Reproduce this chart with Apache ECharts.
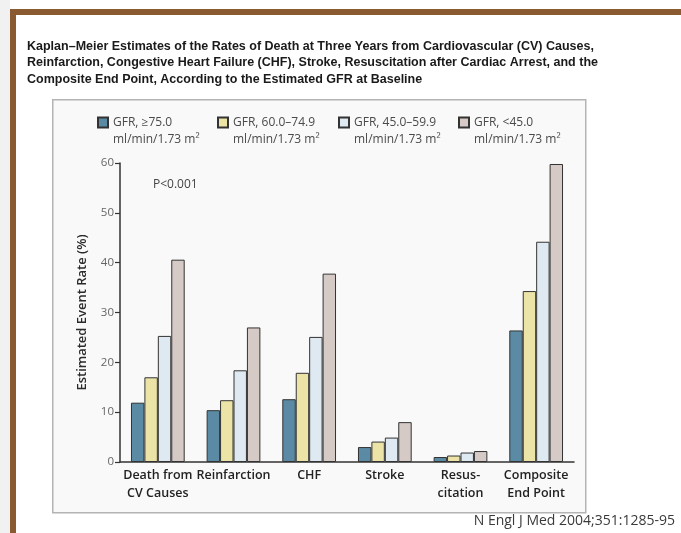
<!DOCTYPE html>
<html>
<head>
<meta charset="utf-8">
<script src="https://cdn.jsdelivr.net/npm/echarts@6/dist/echarts.min.js"></script>
<style>
  html, body { margin: 0; padding: 0; background: #ffffff; }
  #chart { width: 681px; height: 533px; }
</style>
</head>
<body>
<div id="chart"></div>
<script>
// Event categories along the x axis
const categories = ['Death from\nCV Causes', 'Reinfarction', 'CHF', 'Stroke', 'Resus-\ncitation', 'Composite\nEnd Point'];

// Estimated GFR groups (legend)
const groupNames = ['GFR, ≥75.0', 'GFR, 60.0–74.9', 'GFR, 45.0–59.9', 'GFR, <45.0'];
const groupUnit = 'ml/min/1.73 m²';

// Three-year event rates (%) per GFR group
const gfr75 = [11.9, 10.4, 12.6, 3.0, 1.0, 26.4];
const gfr60 = [17.0, 12.4, 17.9, 4.1, 1.3, 34.3];
const gfr45 = [25.3, 18.4, 25.1, 4.9, 1.9, 44.2];
const gfrLow = [40.6, 27.0, 37.8, 8.0, 2.2, 59.8];

// Y axis ticks
const yTicks = [0, 10, 20, 30, 40, 50, 60];

const seriesValues = [gfr75, gfr60, gfr45, gfrLow];
const barColors = ['#5b8ba4', '#ece4a6', '#dfe9f1', '#d6cac6'];
const legendLeft = [97, 217, 338, 458];

const labelFont = '"Open Sans", "Noto Sans", "DejaVu Sans", sans-serif';

const chart = echarts.init(document.getElementById('chart'), null, { renderer: 'canvas' });

const option = {
  animation: false,
  backgroundColor: '#ffffff',
  graphic: [
    // soft grey strip at the far left
    { type: 'rect', left: 0, top: 0, shape: { width: 10, height: 533 },
      style: { fill: '#f1f1f1' }, z: -10 },
    // brown frame: top and left bars
    { type: 'rect', left: 10, top: 9, shape: { width: 671, height: 6 },
      style: { fill: '#8a5b30' }, z: -5 },
    { type: 'rect', left: 10, top: 9, shape: { width: 6, height: 524 },
      style: { fill: '#8a5b30' }, z: -5 },
    // figure panel
    { type: 'rect', left: 52, top: 99, shape: { width: 533, height: 413 },
      style: { fill: '#f9f9f9', stroke: '#b4b4b4', lineWidth: 1.5 }, z: -8 },
    // significance note
    { type: 'text', left: 153, top: 179,
      style: { text: 'P<0.001', fill: '#444', font: '12px ' + labelFont } },
    // citation
    { type: 'text', right: 6, top: 514,
      style: { text: 'N Engl J Med 2004;351:1285-95', fill: '#3a3a3a', font: '14px ' + labelFont } }
  ],
  title: {
    text: 'Kaplan–Meier Estimates of the Rates of Death at Three Years from Cardiovascular (CV) Causes,\nReinfarction, Congestive Heart Failure (CHF), Stroke, Resuscitation after Cardiac Arrest, and the\nComposite End Point, According to the Estimated GFR at Baseline',
    left: 27,
    top: 38,
    padding: 0,
    textStyle: {
      fontFamily: '"Liberation Sans Narrow", "Liberation Sans", Arial, sans-serif',
      fontWeight: 'bold',
      fontSize: 12.5,
      lineHeight: 16.5,
      color: '#1a1a1a'
    }
  },
  legend: groupNames.map((name, i) => ({
    data: [name],
    left: legendLeft[i],
    top: 97,
    padding: 0,
    icon: 'rect',
    itemWidth: 10,
    itemHeight: 10,
    itemGap: 0,
    selectedMode: false,
    // blank first line keeps the swatch level with the group name
    formatter: n => '\n' + n + '\n' + groupUnit,
    textStyle: {
      fontFamily: labelFont,
      fontSize: 12,
      lineHeight: 17,
      color: '#4a4a4a'
    }
  })),
  grid: {
    left: 120,
    top: 163,
    width: 454,
    height: 299
  },
  xAxis: {
    type: 'category',
    data: categories,
    axisLine: { lineStyle: { color: '#333', width: 1.5 } },
    axisTick: { show: false },
    axisLabel: {
      interval: 0,
      margin: 4,
      fontFamily: labelFont,
      fontSize: 12.5,
      fontWeight: 600,
      lineHeight: 18,
      color: '#222'
    }
  },
  yAxis: {
    type: 'value',
    min: yTicks[0],
    max: yTicks[yTicks.length - 1],
    interval: 10,
    name: 'Estimated Event Rate (%)',
    nameLocation: 'middle',
    nameGap: 31,
    nameTextStyle: {
      fontFamily: labelFont,
      fontSize: 13,
      fontWeight: 600,
      color: '#2a2a2a'
    },
    splitLine: { show: false },
    axisLine: { show: true, lineStyle: { color: '#333', width: 1.5 } },
    axisTick: { show: true, inside: false, length: 5, lineStyle: { color: '#333', width: 1.2 } },
    axisLabel: {
      margin: 6,
      fontFamily: labelFont,
      fontSize: 11.5,
      color: '#666'
    }
  },
  series: groupNames.map((name, i) => ({
    name: name,
    type: 'bar',
    data: seriesValues[i],
    barGap: 0,
    barCategoryGap: '29%',
    itemStyle: {
      color: barColors[i],
      borderColor: '#333',
      borderWidth: 1
    }
  }))
};

chart.setOption(option);
</script>
</body>
</html>
